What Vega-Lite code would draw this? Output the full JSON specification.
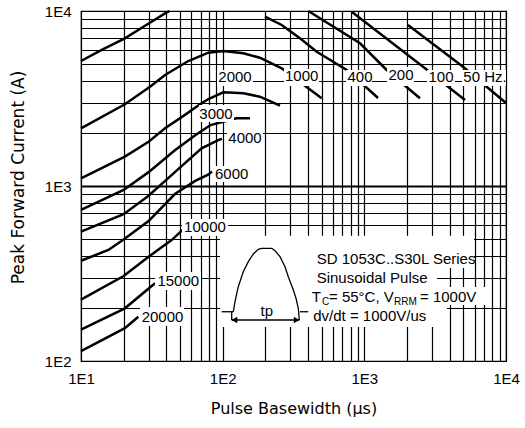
{
  "$schema": "https://vega.github.io/schema/vega-lite/v6.json",
  "width": 425,
  "height": 350,
  "autosize": {"type": "none"},
  "padding": {"left": 81, "top": 11, "right": 19, "bottom": 67},
  "background": "white",
  "config": {"view": {"stroke": "black", "strokeWidth": 1.2}, "font": "Liberation Sans"},
  "datasets": {
    "curves": [
      {"s": "top", "x": 10, "y": 5180}, {"s": "top", "x": 14, "y": 5990}, {"s": "top", "x": 20.4, "y": 6980}, {"s": "top", "x": 28.3, "y": 8240}, {"s": "top", "x": 39.2, "y": 9700}, {"s": "top", "x": 42.2, "y": 10000},
      {"s": "1000", "x": 10, "y": 2136}, {"s": "1000", "x": 20.4, "y": 2931}, {"s": "1000", "x": 30.7, "y": 3694}, {"s": "1000", "x": 39.2, "y": 4306}, {"s": "1000", "x": 57.2, "y": 5179}, {"s": "1000", "x": 79.2, "y": 5777}, {"s": "1000", "x": 101, "y": 5906}, {"s": "1000", "x": 140, "y": 5733}, {"s": "1000", "x": 183, "y": 5409}, {"s": "1000", "x": 261, "y": 4705}, {"s": "1000", "x": 402, "y": 3616}, {"s": "1000", "x": 500, "y": 3171},
      {"s": "2000", "x": 10, "y": 1107}, {"s": "2000", "x": 20.4, "y": 1471}, {"s": "2000", "x": 30, "y": 1791}, {"s": "2000", "x": 39.2, "y": 2136}, {"s": "2000", "x": 54.2, "y": 2550}, {"s": "2000", "x": 70, "y": 2950}, {"s": "2000", "x": 80, "y": 3150}, {"s": "2000", "x": 101, "y": 3430}, {"s": "2000", "x": 140, "y": 3390}, {"s": "2000", "x": 183, "y": 3240}, {"s": "2000", "x": 254, "y": 2880},
      {"s": "3000", "x": 10, "y": 730}, {"s": "3000", "x": 20, "y": 950}, {"s": "3000", "x": 30, "y": 1200}, {"s": "3000", "x": 46, "y": 1600}, {"s": "3000", "x": 64, "y": 1950}, {"s": "3000", "x": 82, "y": 2230}, {"s": "3000", "x": 125, "y": 2440}, {"s": "3000", "x": 156, "y": 2440},
      {"s": "4000", "x": 10, "y": 548}, {"s": "4000", "x": 20, "y": 690}, {"s": "4000", "x": 30, "y": 880}, {"s": "4000", "x": 46, "y": 1200}, {"s": "4000", "x": 71, "y": 1640}, {"s": "4000", "x": 93, "y": 1830}, {"s": "4000", "x": 99, "y": 1860},
      {"s": "6000", "x": 10, "y": 374}, {"s": "6000", "x": 15.6, "y": 431}, {"s": "6000", "x": 20, "y": 495}, {"s": "6000", "x": 30, "y": 630}, {"s": "6000", "x": 46, "y": 900}, {"s": "6000", "x": 64, "y": 1070}, {"s": "6000", "x": 79, "y": 1160}, {"s": "6000", "x": 84, "y": 1210},
      {"s": "10000", "x": 10, "y": 224}, {"s": "10000", "x": 20, "y": 306}, {"s": "10000", "x": 30, "y": 394}, {"s": "10000", "x": 43.6, "y": 491}, {"s": "10000", "x": 52.2, "y": 561},
      {"s": "15000", "x": 10, "y": 151}, {"s": "15000", "x": 20.4, "y": 200}, {"s": "15000", "x": 33.3, "y": 278},
      {"s": "20000", "x": 10, "y": 114}, {"s": "20000", "x": 20.4, "y": 154}, {"s": "20000", "x": 25.4, "y": 179},
      {"s": "400", "x": 199, "y": 9280}, {"s": "400", "x": 261, "y": 8318}, {"s": "400", "x": 351, "y": 6982}, {"s": "400", "x": 461, "y": 5853}, {"s": "400", "x": 751, "y": 4601}, {"s": "400", "x": 1044, "y": 3631}, {"s": "400", "x": 1249, "y": 3184},
      {"s": "200", "x": 402, "y": 10000}, {"s": "200", "x": 932, "y": 6538}, {"s": "200", "x": 1438, "y": 4601}, {"s": "200", "x": 2033, "y": 3616}, {"s": "200", "x": 2471, "y": 3171},
      {"s": "100", "x": 814, "y": 9908}, {"s": "100", "x": 2681, "y": 4705}, {"s": "100", "x": 4024, "y": 3616}, {"s": "100", "x": 5135, "y": 3100},
      {"s": "50", "x": 2033, "y": 8318}, {"s": "50", "x": 4971, "y": 4805}, {"s": "50", "x": 7340, "y": 3678}, {"s": "50", "x": 10000, "y": 2980}
    ],
    "boxes": [
      {"x": 91.2, "x2": 163.7, "y": 4601, "y2": 3728},
      {"x": 271, "x2": 478.6, "y": 4663, "y2": 3728},
      {"x": 742.5, "x2": 1133, "y": 4601, "y2": 3728},
      {"x": 1445, "x2": 2242, "y": 4786, "y2": 3728},
      {"x": 2769, "x2": 4365, "y": 4601, "y2": 3728},
      {"x": 4891, "x2": 10000, "y": 4601, "y2": 3728},
      {"x": 68.1, "x2": 120.2, "y": 2903, "y2": 2321},
      {"x": 107.3, "x2": 192.6, "y": 2062, "y2": 1693},
      {"x": 86.9, "x2": 166.4, "y": 1301, "y2": 1054},
      {"x": 51.6, "x2": 109.1, "y": 647.6, "y2": 518},
      {"x": 33.3, "x2": 70.3, "y": 322.6, "y2": 254.5},
      {"x": 26.1, "x2": 53.4, "y": 203.5, "y2": 158.5},
      {"x": 95.8, "x2": 427, "y": 520, "y2": 156.4},
      {"x": 427, "x2": 5944, "y": 520, "y2": 340},
      {"x": 427, "x2": 3257, "y": 340, "y2": 264.8},
      {"x": 427, "x2": 7464, "y": 264.8, "y2": 208.9},
      {"x": 427, "x2": 3832, "y": 208.9, "y2": 156.4}
    ],
    "pulse": [
      {"p": "base-left", "x": 98.4, "y": 191.2}, {"p": "base-left", "x": 118.9, "y": 191.2},
      {"p": "tick-left", "x": 115.8, "y": 191.2}, {"p": "tick-left", "x": 115.8, "y": 171.5},
      {"p": "outline", "x": 118.9, "y": 191.2}, {"p": "outline", "x": 122.2, "y": 218.2}, {"p": "outline", "x": 128.9, "y": 265.9}, {"p": "outline", "x": 139.8, "y": 323.8}, {"p": "outline", "x": 151.7, "y": 369.4}, {"p": "outline", "x": 164.5, "y": 408.7}, {"p": "outline", "x": 178.4, "y": 434.8}, {"p": "outline", "x": 188.6, "y": 440.6}, {"p": "outline", "x": 221.9, "y": 440.6}, {"p": "outline", "x": 234.2, "y": 426.9}, {"p": "outline", "x": 254, "y": 394.5}, {"p": "outline", "x": 275.4, "y": 345.8}, {"p": "outline", "x": 290.6, "y": 303.1}, {"p": "outline", "x": 312.2, "y": 260.3}, {"p": "outline", "x": 329.4, "y": 228.2}, {"p": "outline", "x": 342, "y": 200.1}, {"p": "outline", "x": 347.5, "y": 171.5},
      {"p": "base-right", "x": 351.5, "y": 191.2}, {"p": "base-right", "x": 402, "y": 191.2},
      {"p": "arrow", "x": 115.8, "y": 171.5}, {"p": "arrow", "x": 347.5, "y": 171.5}
    ],
    "heads": [
      {"x": 121, "y": 171.5, "dir": "left"},
      {"x": 333, "y": 171.5, "dir": "right"}
    ],
    "labels": [
      {"x": 122.2, "y": 4169, "t": "2000"},
      {"x": 361.3, "y": 4253, "t": "1000"},
      {"x": 932, "y": 4169, "t": "400"},
      {"x": 1815, "y": 4309, "t": "200"},
      {"x": 3476, "y": 4169, "t": "100"},
      {"x": 7107, "y": 4169, "t": "50 Hz."},
      {"x": 89.7, "y": 2579, "t": "3000"},
      {"x": 143.8, "y": 1873, "t": "4000"},
      {"x": 115.8, "y": 1171, "t": "6000"},
      {"x": 75, "y": 579.3, "t": "10000"},
      {"x": 48.6, "y": 286.6, "t": "15000"},
      {"x": 37.6, "y": 179.1, "t": "20000"},
      {"x": 204.6, "y": 193, "t": "tp"}
    ],
    "notes": [
      {"x": 461, "y": 382.7, "t": "SD 1053C..S30L Series"},
      {"x": 461, "y": 300, "t": "Sinusoidal Pulse"},
      {"x": 425, "y": 230.6, "t": "T"},
      {"x": 563, "y": 230.6, "t": "= 55°C, V"},
      {"x": 2471, "y": 230.6, "t": "= 1000V"},
      {"x": 436, "y": 180.8, "t": "dv/dt = 1000V/us"}
    ],
    "subs": [
      {"x": 502, "y": 217.6, "t": "C"},
      {"x": 1620, "y": 217.6, "t": "RRM"}
    ]
  },
  "encoding": {
    "x": {
      "field": "x", "type": "quantitative",
      "scale": {"type": "log", "domain": [10, 10000], "nice": false},
      "axis": {
        "values": [10, 20, 30, 40, 50, 60, 70, 80, 90, 100, 200, 300, 400, 500, 600, 700, 800, 900, 1000, 2000, 3000, 4000, 5000, 6000, 7000, 8000, 9000, 10000],
        "labelExpr": "datum.value == 10 ? '1E1' : datum.value == 100 ? '1E2' : datum.value == 1000 ? '1E3' : datum.value == 10000 ? '1E4' : ''",
        "grid": true, "gridColor": "black", "gridOpacity": 1, "gridWidth": 1.2,
        "ticks": false, "domain": false,
        "labelFont": "Liberation Sans", "labelFontSize": 15, "labelColor": "black", "labelPadding": 10, "labelOverlap": false, "labelFlush": false,
        "title": "Pulse Basewidth (µs)", "titleFont": "DejaVu Sans", "titleFontSize": 16, "titleFontWeight": "normal", "titleColor": "black", "titlePadding": 14
      }
    },
    "y": {
      "field": "y", "type": "quantitative",
      "scale": {"type": "log", "domain": [100, 10000], "nice": false},
      "axis": {
        "values": [100, 200, 300, 400, 500, 600, 700, 800, 900, 1000, 2000, 3000, 4000, 5000, 6000, 7000, 8000, 9000, 10000],
        "labelExpr": "datum.value == 100 ? '1E2' : datum.value == 1000 ? '1E3' : datum.value == 10000 ? '1E4' : ''",
        "grid": true, "gridColor": "black", "gridOpacity": 1,
        "gridWidth": {"condition": {"test": "datum.value == 1000", "value": 2.2}, "value": 1.2},
        "ticks": false, "domain": false,
        "labelFont": "Liberation Sans", "labelFontSize": 15, "labelColor": "black", "labelPadding": 10, "labelOverlap": false, "labelFlush": false,
        "title": "Peak Forward Current (A)", "titleFont": "DejaVu Sans", "titleFontSize": 17, "titleFontWeight": "normal", "titleColor": "black", "titlePadding": 17, "titleY": 166
      }
    }
  },
  "layer": [
    {"data": {"name": "curves"}, "mark": {"type": "line", "color": "black", "strokeWidth": 2.5}, "encoding": {"detail": {"field": "s"}}},
    {"data": {"name": "boxes"}, "mark": {"type": "rect", "color": "white", "opacity": 1}, "encoding": {"x2": {"field": "x2"}, "y2": {"field": "y2"}}},
    {"data": {"name": "pulse"}, "mark": {"type": "line", "color": "black", "strokeWidth": 1.3}, "encoding": {"detail": {"field": "p"}}},
    {"data": {"name": "heads"}, "mark": {"type": "point", "filled": true, "color": "black", "opacity": 1, "size": 45}, "encoding": {"shape": {"field": "dir", "type": "nominal", "scale": {"domain": ["left", "right"], "range": ["triangle-left", "triangle-right"]}, "legend": null}}},
    {"data": {"name": "labels"}, "mark": {"type": "text", "font": "Liberation Sans", "fontSize": 15, "color": "black", "align": "center", "baseline": "middle"}, "encoding": {"text": {"field": "t"}}},
    {"data": {"name": "notes"}, "mark": {"type": "text", "font": "Liberation Sans", "fontSize": 15, "color": "black", "align": "left", "baseline": "middle"}, "encoding": {"text": {"field": "t"}}},
    {"data": {"name": "subs"}, "mark": {"type": "text", "font": "Liberation Sans", "fontSize": 10, "color": "black", "align": "left", "baseline": "middle"}, "encoding": {"text": {"field": "t"}}}
  ]
}
